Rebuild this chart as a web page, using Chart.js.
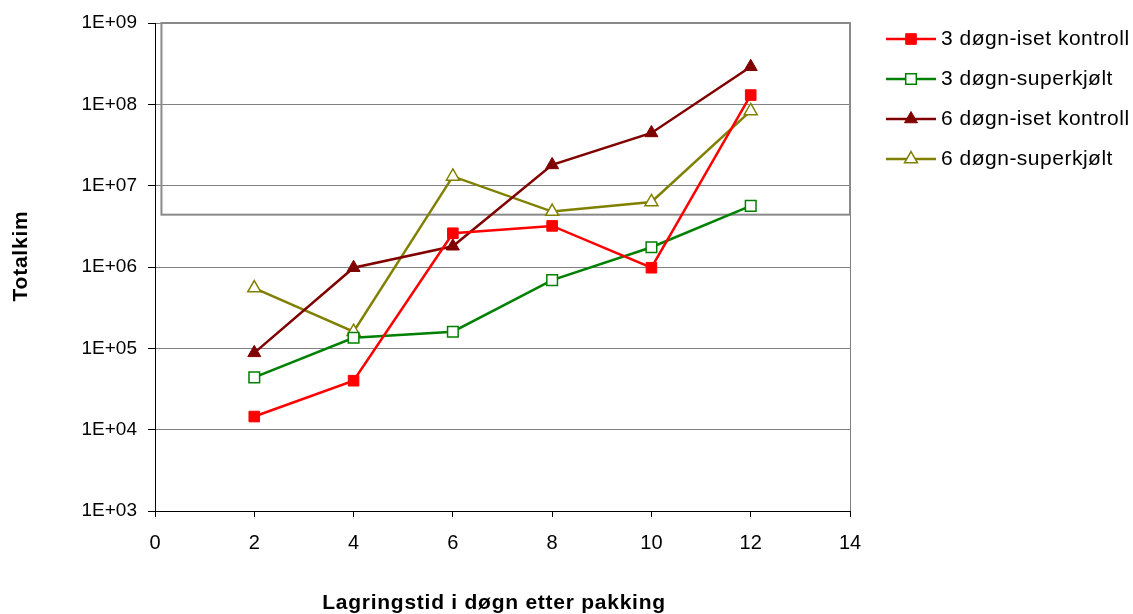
<!DOCTYPE html>
<html>
<head>
<meta charset="utf-8">
<script src="https://cdn.jsdelivr.net/npm/chart.js@4"></script>
<style>
  html, body { margin: 0; padding: 0; background: #fff; }
  #wrap { width: 1133px; height: 614px; }
</style>
</head>
<body>
<div id="wrap"><canvas id="chart" width="1133" height="614"></canvas></div>
<script>
const days = [2, 4, 6, 8, 10, 12]
const seriesNames = ["3 døgn-iset kontroll", "3 døgn-superkjølt", "6 døgn-iset kontroll", "6 døgn-superkjølt"]
const iset3 = [1.45e4, 4.0e4, 2.6e6, 3.2e6, 9.8e5, 1.3e8]
const superkjolt3 = [4.4e4, 1.35e5, 1.6e5, 6.9e5, 1.75e6, 5.65e6]
const iset6 = [8.8e4, 9.8e5, 1.8e6, 1.8e7, 4.45e7, 2.9e8]
const superkjolt6 = [5.5e5, 1.6e5, 1.3e7, 4.8e6, 6.3e6, 8.3e7]
const yTicks = [1e3, 1e4, 1e5, 1e6, 1e7, 1e8, 1e9]
const xTitle = "Lagringstid i døgn etter pakking"
const yTitle = "Totalkim"
// the grey frame drawn over the upper part of the plot, in data units
const boxX = [0.13, 14]
const boxY = [4.4e6, 1e9]

const font = "'Liberation Sans', Arial, sans-serif"

const pts = vals => days.map((d, i) => ({ x: d, y: vals[i] }))

function series(label, vals, color, style, filled) {
  return {
    label: label,
    data: pts(vals),
    borderColor: color,
    backgroundColor: filled ? color : "#fff",
    pointBackgroundColor: filled ? color : "#fff",
    pointBorderColor: color,
    pointStyle: style,
    pointRadius: 7.5,
    pointBorderWidth: filled ? 1 : 1.5,
    borderWidth: 2.5,
    tension: 0,
  }
}

const frame = {
  id: "frame",
  beforeDatasetsDraw(chart) {
    const { ctx, chartArea, scales } = chart
    ctx.save()
    ctx.strokeStyle = "#808080"
    ctx.lineWidth = 1
    ctx.beginPath()
    ctx.moveTo(chartArea.right + 0.5, chartArea.top)
    ctx.lineTo(chartArea.right + 0.5, chartArea.bottom)
    ctx.stroke()
    const x0 = scales.x.getPixelForValue(boxX[0])
    const x1 = scales.x.getPixelForValue(boxX[1])
    const y0 = scales.y.getPixelForValue(boxY[1])
    const y1 = scales.y.getPixelForValue(boxY[0])
    ctx.strokeStyle = "#8a8a8a"
    ctx.lineWidth = 2
    ctx.strokeRect(x0, y0, x1 - x0, y1 - y0)
    ctx.restore()
  },
  afterDraw(chart) {
    const { ctx } = chart
    ctx.save()
    // legend
    chart.data.datasets.forEach((ds, i) => {
      const y = 39 + i * 40
      ctx.strokeStyle = ds.borderColor
      ctx.lineWidth = ds.borderWidth
      ctx.beginPath()
      ctx.moveTo(886, y)
      ctx.lineTo(936, y)
      ctx.stroke()
      ctx.fillStyle = ds.pointBackgroundColor
      ctx.strokeStyle = ds.pointBorderColor
      ctx.lineWidth = ds.pointBorderWidth
      Chart.helpers.drawPoint(ctx, {
        pointStyle: ds.pointStyle, radius: 7.5, rotation: 0, borderWidth: ds.pointBorderWidth
      }, 911, y)
      ctx.fillStyle = "#000"
      ctx.font = "21px " + font
      ctx.letterSpacing = "0.5px"
      ctx.textBaseline = "middle"
      ctx.textAlign = "left"
      ctx.fillText(ds.label, 941, y)
    })
    // axis titles
    ctx.fillStyle = "#000"
    ctx.font = "bold 21px " + font
    ctx.letterSpacing = "0.75px"
    ctx.textAlign = "center"
    ctx.textBaseline = "middle"
    ctx.fillText(xTitle, 494, 603)
    ctx.translate(21, 256)
    ctx.rotate(-Math.PI / 2)
    ctx.fillText(yTitle, 0, 0)
    ctx.restore()
  }
}

new Chart(document.getElementById("chart"), {
  type: "line",
  data: {
    datasets: [
      series(seriesNames[0], iset3, "#ff0000", "rect", true),
      series(seriesNames[1], superkjolt3, "#008000", "rect", false),
      series(seriesNames[2], iset6, "#800000", "triangle", true),
      series(seriesNames[3], superkjolt6, "#808000", "triangle", false),
    ],
  },
  options: {
    responsive: false,
    animation: false,
    layout: { padding: { top: 23, right: 283, bottom: 0, left: 0 } },
    plugins: {
      legend: { display: false },
      tooltip: { enabled: false },
    },
    scales: {
      x: {
        type: "linear",
        min: 0,
        max: 14,
        afterFit: s => { s.height = 103 },
        ticks: { stepSize: 2, color: "#000", font: { family: font, size: 20 }, padding: 14 },
        grid: { drawOnChartArea: false, drawTicks: true, tickLength: 6, tickColor: "#000" },
        border: { color: "#000", width: 1 },
      },
      y: {
        type: "logarithmic",
        min: 1e3,
        max: 1e9,
        afterFit: s => { s.width = 155 },
        afterBuildTicks: s => { s.ticks = yTicks.map(v => ({ value: v, major: true })) },
        ticks: {
          color: "#000",
          font: { family: font, size: 19 },
          padding: 11,
          callback: v => "1E+" + String(Math.round(Math.log10(v))).padStart(2, "0"),
        },
        grid: { color: "#808080", lineWidth: 1, drawTicks: true, tickLength: 7, tickColor: "#000" },
        border: { color: "#000", width: 1 },
      },
    },
  },
  plugins: [frame],
})
</script>
</body>
</html>
